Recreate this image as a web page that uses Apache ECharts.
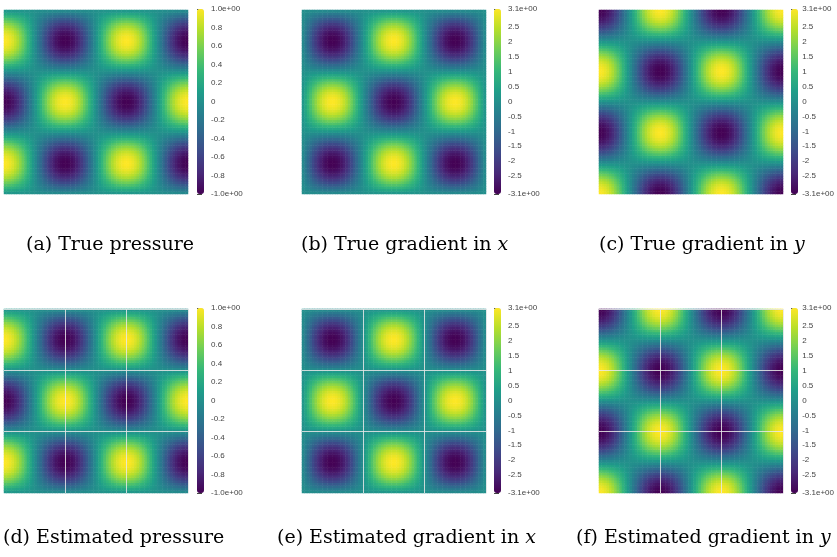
<!DOCTYPE html>
<html>
<head>
<meta charset="utf-8">
<script src="https://cdn.jsdelivr.net/npm/echarts@6/dist/echarts.min.js"></script>
<style>
  html, body { margin: 0; padding: 0; background: #fff; }
  #main { width: 837px; height: 557px; }
</style>
</head>
<body>
<div id="main"></div>
<script>
// cell-centre profiles read across a panel side (72 cells, 1.5 periods)
const waveCos = [
  0.998, 0.981, 0.947, 0.897, 0.831, 0.752, 0.659, 0.556, 0.442, 0.321, 0.195, 0.065,
  -0.065, -0.195, -0.321, -0.442, -0.556, -0.659, -0.752, -0.831, -0.897, -0.947, -0.981, -0.998,
  -0.998, -0.981, -0.947, -0.897, -0.831, -0.752, -0.659, -0.556, -0.442, -0.321, -0.195, -0.065,
  0.065, 0.195, 0.321, 0.442, 0.556, 0.659, 0.752, 0.831, 0.897, 0.947, 0.981, 0.998,
  0.998, 0.981, 0.947, 0.897, 0.831, 0.752, 0.659, 0.556, 0.442, 0.321, 0.195, 0.065,
  -0.065, -0.195, -0.321, -0.442, -0.556, -0.659, -0.752, -0.831, -0.897, -0.947, -0.981, -0.998
];
const waveSin = [
  0.065, 0.195, 0.321, 0.442, 0.556, 0.659, 0.752, 0.831, 0.897, 0.947, 0.981, 0.998,
  0.998, 0.981, 0.947, 0.897, 0.831, 0.752, 0.659, 0.556, 0.442, 0.321, 0.195, 0.065,
  -0.065, -0.195, -0.321, -0.442, -0.556, -0.659, -0.752, -0.831, -0.897, -0.947, -0.981, -0.998,
  -0.998, -0.981, -0.947, -0.897, -0.831, -0.752, -0.659, -0.556, -0.442, -0.321, -0.195, -0.065,
  0.065, 0.195, 0.321, 0.442, 0.556, 0.659, 0.752, 0.831, 0.897, 0.947, 0.981, 0.998,
  0.998, 0.981, 0.947, 0.897, 0.831, 0.752, 0.659, 0.556, 0.442, 0.321, 0.195, 0.065
];
const pressurePeak = 1.0;
const gradientPeak = 3.1;

const pressureTicks = [-1, -0.8, -0.6, -0.4, -0.2, 0, 0.2, 0.4, 0.6, 0.8, 1];
const pressureTickLabels = ['-1.0e+00', '-0.8', '-0.6', '-0.4', '-0.2', '0', '0.2', '0.4', '0.6', '0.8', '1.0e+00'];
const gradientTicks = [-3.1, -2.5, -2, -1.5, -1, -0.5, 0, 0.5, 1, 1.5, 2, 2.5, 3.1];
const gradientTickLabels = ['-3.1e+00', '-2.5', '-2', '-1.5', '-1', '-0.5', '0', '0.5', '1', '1.5', '2', '2.5', '3.1e+00'];

const captions = [
  '(a) True pressure',
  '(b) True gradient in {i|x}',
  '(c) True gradient in {i|y}',
  '(d) Estimated pressure',
  '(e) Estimated gradient in {i|x}',
  '(f) Estimated gradient in {i|y}'
];

const viridis = ['#440154', '#482878', '#3e4989', '#31688e', '#26828e',
  '#1f9e89', '#35b779', '#6ece58', '#b5de2b', '#fde725'];

function buildField(kind) {
  const out = [];
  for (let i = 0; i < waveCos.length; i++) {
    for (let j = 0; j < waveCos.length; j++) {
      let v;
      if (kind === 'p') v = pressurePeak * waveCos[i] * waveSin[j];
      else if (kind === 'gx') v = -gradientPeak * waveSin[i] * waveSin[j];
      else v = gradientPeak * waveCos[i] * waveCos[j];
      out.push([i, j, v]);
    }
  }
  return out;
}

const cats = waveCos.map((_, i) => i);
const third = waveCos.length / 3;
const plotLeft = [4, 302, 599];
const barLeft = [197, 494, 791];
const plotTop = [10, 309];
const barTop = [9, 308];
const captionLeft = [[26, 301, 599], [3, 277, 576]];
const captionTop = [236, 529];
const kinds = ['p', 'gx', 'gy'];
const serif = 'DejaVu Serif';

const chart = echarts.init(document.getElementById('main'));

const grid = [], xAxis = [], yAxis = [], series = [], visualMap = [], title = [];
let g = 0;
for (let r = 0; r < 2; r++) {
  for (let c = 0; c < 3; c++) {
    const k = r * 3 + c;
    const isP = c === 0;
    const peak = isP ? pressurePeak : gradientPeak;
    const ticks = isP ? pressureTicks : gradientTicks;
    const labels = isP ? pressureTickLabels : gradientTickLabels;
    const est = r === 1;

    // heat map panel
    grid.push({ left: plotLeft[c], top: plotTop[r], width: 184, height: 184 });
    const split = {
      show: est,
      interval: (idx) => idx === third || idx === 2 * third,
      lineStyle: { color: 'rgba(232,232,232,0.85)', width: 1 }
    };
    xAxis.push({ type: 'category', data: cats, gridIndex: g, z: 5,
      axisLine: { show: false }, axisTick: { show: false }, axisLabel: { show: false }, splitLine: split });
    yAxis.push({ type: 'category', data: cats, gridIndex: g, z: 5,
      axisLine: { show: false }, axisTick: { show: false }, axisLabel: { show: false }, splitLine: split });
    series.push({
      type: 'heatmap', xAxisIndex: g, yAxisIndex: g,
      data: buildField(kinds[c]),
      emphasis: { disabled: true }, progressive: 0
    });
    visualMap.push({
      type: 'continuous', seriesIndex: k, dimension: 2,
      min: -peak, max: peak, calculable: false, show: true,
      left: barLeft[c], top: barTop[r], itemWidth: 7, itemHeight: 185,
      padding: 0, text: null, hoverLink: false,
      inRange: { color: viridis }
    });
    g++;

    // colour bar tick labels
    grid.push({ left: barLeft[c], top: barTop[r], width: 7, height: 185 });
    xAxis.push({ type: 'value', gridIndex: g, show: false });
    yAxis.push({
      type: 'value', gridIndex: g, position: 'right', min: -peak, max: peak,
      axisLine: { show: false }, splitLine: { show: false },
      axisTick: { show: true, length: 5, customValues: ticks, lineStyle: { color: '#444' } },
      axisLabel: {
        customValues: ticks, margin: 7, fontSize: 8, color: '#444',
        fontFamily: 'Liberation Sans',
        formatter: (v) => labels[ticks.indexOf(v)]
      }
    });
    g++;

    title.push({
      text: captions[k], left: captionLeft[r][c], top: captionTop[r], padding: 0,
      textStyle: {
        fontFamily: serif, fontSize: 19, fontWeight: 'normal', color: '#000',
        rich: { i: { fontFamily: serif, fontSize: 19, fontStyle: 'italic', color: '#000' } }
      }
    });
  }
}

chart.setOption({
  animation: false,
  title: title,
  grid: grid,
  xAxis: xAxis,
  yAxis: yAxis,
  visualMap: visualMap,
  series: series
});
</script>
</body>
</html>
